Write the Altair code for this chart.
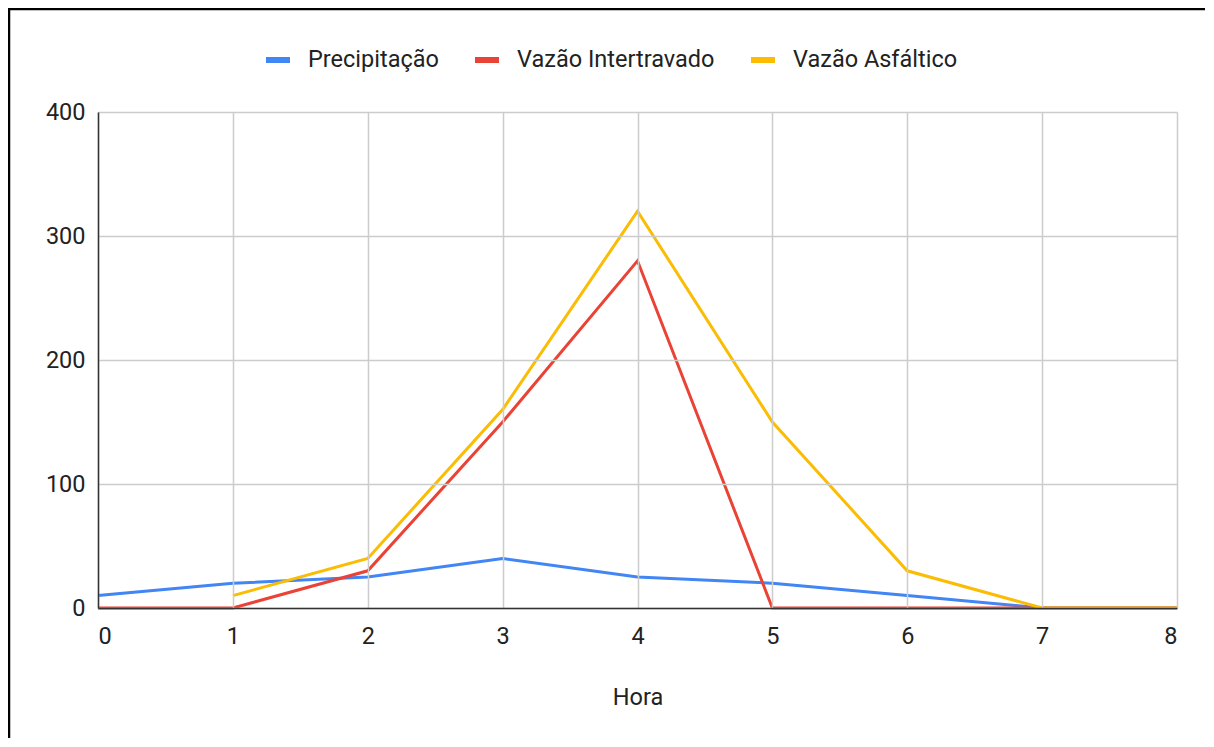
import altair as alt
import pandas as pd

horas = [0, 1, 2, 3, 4, 5, 6, 7, 8]
precipitacao = [10, 20, 25, 40, 25, 20, 10, 0, 0]
vazao_intertravado = [0, 0, 30, 150, 280, 0, 0, 0, 0]
vazao_asfaltico = [None, 10, 40, 160, 320, 150, 30, 0, 0]

series_names = ["Precipitação", "Vazão Intertravado", "Vazão Asfáltico"]
series_colors = ["#4285F4", "#EA4335", "#FBBC04"]
y_ticks = [0, 100, 200, 300, 400]

rows = []
for name, vals in zip(series_names, [precipitacao, vazao_intertravado, vazao_asfaltico]):
    for h, v in zip(horas, vals):
        if v is not None:
            rows.append({"Hora": h, "Série": name, "Valor": v})
df = pd.DataFrame(rows)

W, H = 1079, 496
FONT = "Roboto"
FS = 23.5

color = alt.Color(
    "Série:N",
    scale=alt.Scale(domain=series_names, range=series_colors),
    legend=alt.Legend(
        title=None,
        orient="none",
        legendX=165,
        legendY=-67,
        direction="horizontal",
        symbolType="stroke",
        symbolStrokeWidth=6,
        symbolSize=576,
        labelFontSize=FS,
        labelFont=FONT,
        labelColor="#222222",
        labelOffset=15,
        columnPadding=24,
        labelLimit=400,
    ),
)

x = alt.X(
    "Hora:Q",
    scale=alt.Scale(domain=[0, 8], nice=False),
    axis=alt.Axis(
        values=horas,
        title="Hora",
        format="d",
        labelFontSize=FS,
        titleFontSize=FS,
        titleFontWeight="normal",
        titlePadding=38,
        labelPadding=16,
        grid=True,
        gridColor="#cccccc",
        gridWidth=1.5,
        ticks=False,
        domainColor="#333333",
        domainWidth=1.5,
        zindex=1,
    ),
)
y = alt.Y(
    "Valor:Q",
    scale=alt.Scale(domain=[0, 400], nice=False),
    axis=alt.Axis(
        values=y_ticks,
        title=None,
        labelFontSize=FS,
        labelPadding=13,
        grid=True,
        gridColor="#cccccc",
        gridWidth=1.5,
        ticks=False,
        domainColor="#333333",
        domainWidth=1.5,
        zindex=1,
    ),
)

base = alt.Chart(df)
layers = []
for name in series_names:
    layers.append(
        base.transform_filter(alt.datum["Série"] == name)
        .mark_line(strokeWidth=3)
        .encode(x=x, y=y, color=color)
    )

frame_src = pd.DataFrame({"a": [0]})
frame_left = alt.Chart(frame_src).mark_rule(color="black", strokeWidth=2.5).encode(
    x=alt.value(-89), y=alt.value(-103), y2=alt.value(H + 140)
)
frame_top = alt.Chart(frame_src).mark_rule(color="black", strokeWidth=2.5).encode(
    x=alt.value(-90), x2=alt.value(W + 28), y=alt.value(-103)
)

chart = alt.layer(frame_left, frame_top, *layers).properties(
    width=W,
    height=H,
    autosize=alt.AutoSizeParams(type="none"),
    padding={"left": 90, "top": 104, "right": 28, "bottom": 130},
).configure(font=FONT, background="white").configure_axis(
    labelColor="#222222", titleColor="#222222", labelFont=FONT, titleFont=FONT
).configure_view(stroke=None)

chart.save("out.html", embed_options={"renderer": "svg", "actions": False})
